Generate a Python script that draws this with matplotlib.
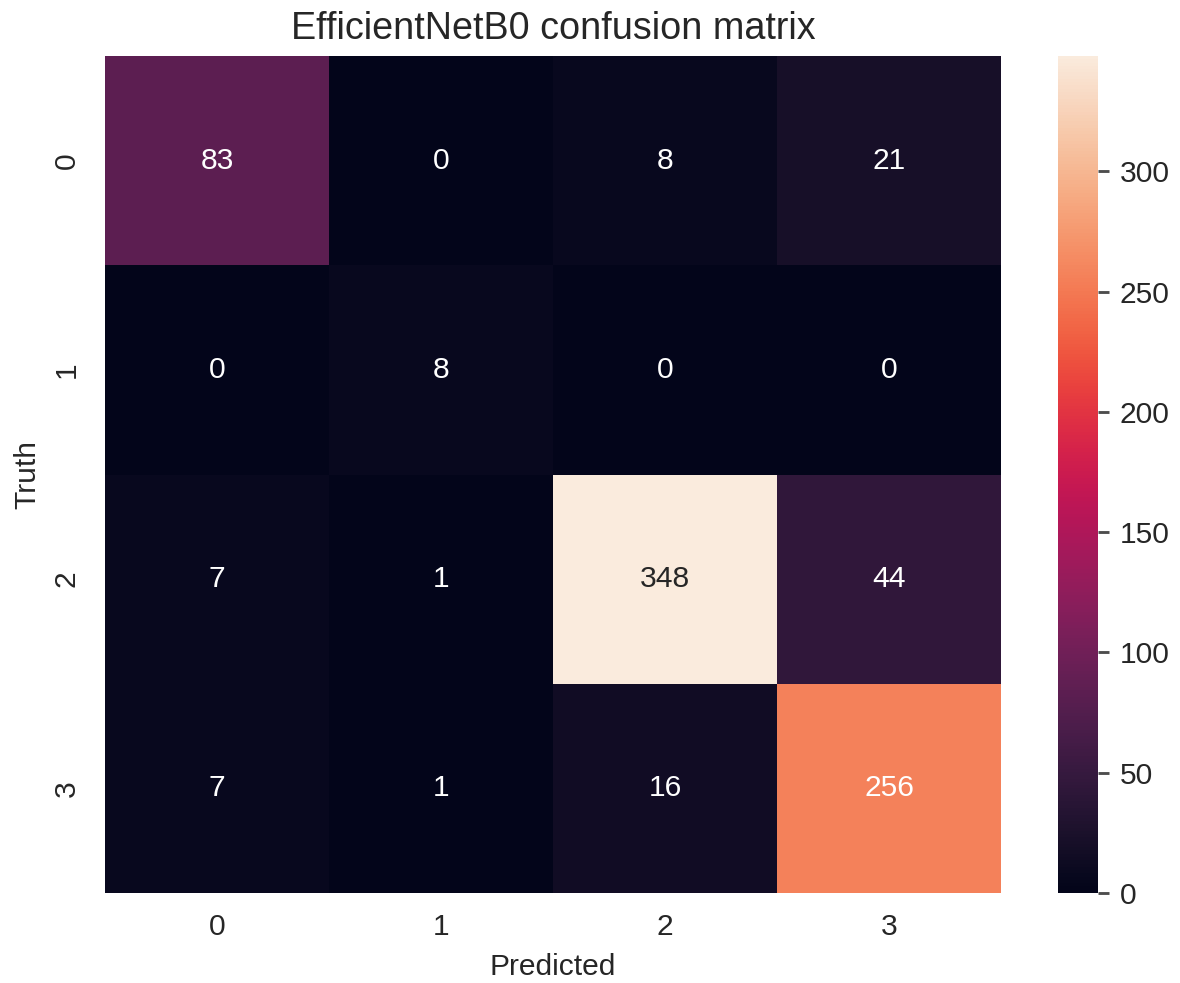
import numpy as np
import matplotlib
matplotlib.use("Agg")
import matplotlib.pyplot as plt
import seaborn as sns

classes = [0, 1, 2, 3]
row0 = [83, 0, 8, 21]
row1 = [0, 8, 0, 0]
row2 = [7, 1, 348, 44]
row3 = [7, 1, 16, 256]

cm = np.array([row0, row1, row2, row3])

sns.set_theme()
plt.rcParams['font.family'] = ['Liberation Sans', 'DejaVu Sans']
plt.rcParams['font.size'] = 10.5
plt.rcParams['axes.labelsize'] = 10.5
plt.rcParams['xtick.labelsize'] = 10.5
plt.rcParams['ytick.labelsize'] = 10.5
plt.rcParams['axes.titlesize'] = 13.2

dpi = 206
fig = plt.figure(figsize=(1180 / dpi, 983 / dpi), dpi=dpi)
W, H = 1180, 983
ax = fig.add_axes([105 / W, 1 - 893 / H, (1001 - 105) / W, (893 - 56) / H])
cax = fig.add_axes([1058 / W, 1 - 893 / H, (1098 - 1058) / W, (893 - 56) / H])

sns.heatmap(cm, annot=True, fmt='d', ax=ax, cbar_ax=cax,
            annot_kws={'size': 10.5},
            xticklabels=classes, yticklabels=classes)
ax.set_title('EfficientNetB0 confusion matrix')
ax.set_xlabel('Predicted')
ax.set_ylabel('Truth')
ax.tick_params(axis='x', pad=1.1)
ax.tick_params(axis='y', pad=2.5)
cax.tick_params(length=4, width=1, color='.3')

fig.savefig('out.png', dpi=dpi)
